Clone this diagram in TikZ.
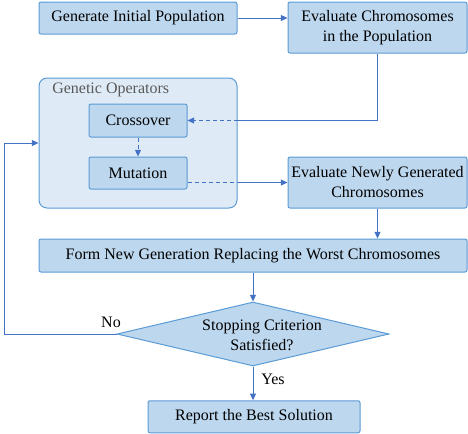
\documentclass[tikz,border=0pt]{standalone}
\usepackage{fontspec}
\setmainfont{Liberation Serif}
\usetikzlibrary{arrows.meta,shapes.geometric,positioning}
\definecolor{boxfill}{HTML}{BDD7EE}
\definecolor{boxline}{HTML}{5B9BD5}
\definecolor{grpfill}{HTML}{DEEBF7}
\definecolor{flowline}{HTML}{4472C4}
\definecolor{lblgray}{HTML}{595959}

\begin{document}
\begin{tikzpicture}[x=0.75pt,y=-0.75pt,font=\rmfamily\fontsize{12}{15}\selectfont,
    blk/.style={draw=boxline,fill=boxfill,line width=0.75pt,rounded corners=1.5pt,inner sep=0pt,align=center},
    grp/.style={draw=boxline,fill=grpfill,line width=0.75pt,rounded corners=6pt,inner sep=0pt},
    dec/.style={draw=boxline,fill=boxfill,line width=0.75pt,shape=diamond,inner sep=0pt},
    flow/.style={draw=flowline,line width=0.75pt,-{Triangle[length=5pt,width=4.5pt]}},
    seg/.style={draw=flowline,line width=0.75pt},
    dsh/.style={dash pattern=on 3pt off 2.25pt}]%
    \useasboundingbox (0,0) rectangle (468,433);
    %% top row
    \node[blk,minimum width=148.5pt,minimum height=24pt] (gen) at (138,18) {Generate Initial Population}; %%
    \node[blk,minimum width=134.25pt,minimum height=38.25pt] (evalpop) at (377.5,27.5) {Evaluate Chromosomes\\in the Population}; %%
    %% genetic operators group
    \node[grp,minimum width=148.5pt,minimum height=97.5pt] (gops) at (138,143) {}; %%
    \node[anchor=west,text=lblgray,inner sep=0pt] (gopslbl) at (52,90) {Genetic Operators}; %%
    \node[blk,minimum width=73.5pt,minimum height=24.75pt] (cross) at (138,120.5) {Crossover}; %%
    \node[blk,minimum width=73.5pt,minimum height=24pt] (mut) at (138,173) {Mutation}; %%
    \node[blk,minimum width=134.25pt,minimum height=38.25pt] (evalnew) at (377.5,182.5) {Evaluate Newly Generated\\Chromosomes}; %%
    %% lower part
    \node[blk,minimum width=321pt,minimum height=24.75pt] (form) at (253,255.5) {Form New Generation Replacing the Worst Chromosomes}; %%
    \node[dec,minimum width=204pt,minimum height=48pt] (stop) at (253,334) {}; %%
    \node[align=center,inner sep=0pt] (stoptxt) at (262,335.5) {Stopping Criterion\\Satisfied?}; %%
    \node[blk,minimum width=159pt,minimum height=24pt] (report) at (254,416.75) {Report the Best Solution}; %%
    \node[inner sep=0pt] (nolbl) at (111,322) {No}; %%
    \node[inner sep=0pt] (yeslbl) at (273,379) {Yes}; %%
    %% connectors
    \draw[flow] (gen) -- (evalpop.west |- gen); %%
    \draw[seg] (evalpop.south) |- (gops.east |- cross.east); %%
    \draw[flow,dsh] (gops.east |- cross.east) -- (cross.east); %%
    \draw[flow,dsh] (cross) -- (mut); %%
    \draw[seg,dsh] (mut.east |- evalnew.west) -- (gops.east |- evalnew.west); %%
    \draw[flow] (gops.east |- evalnew.west) -- (evalnew.west); %%
    \draw[flow] (evalnew.south) -- (evalnew.south |- form.north); %%
    \draw[flow] (form.south -| stop.north) -- (stop.north); %%
    \draw[flow] (stop.south) -- (report.north -| stop.south); %%
    \draw[flow] (stop.west) -- ++(-112,0) |- (gops.west); %%
\end{tikzpicture}
\end{document}
